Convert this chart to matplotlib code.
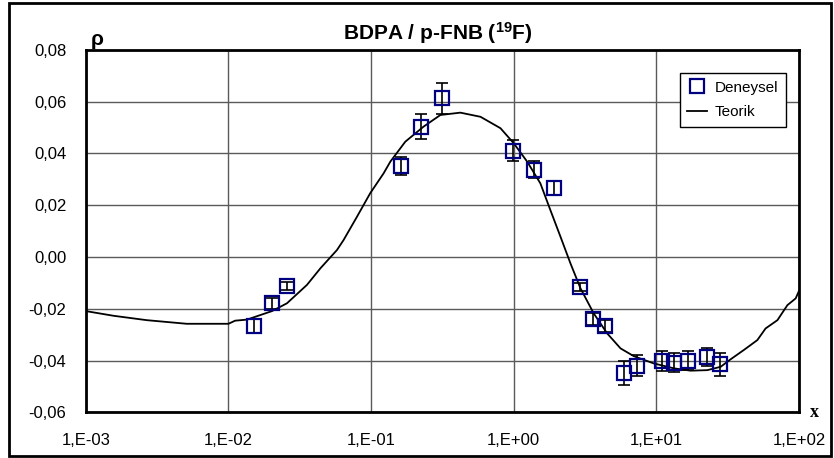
import matplotlib
matplotlib.use("Agg")
import matplotlib.pyplot as plt
from matplotlib.lines import Line2D
from matplotlib.patches import Rectangle
from matplotlib.ticker import FixedLocator, FixedFormatter

plt.rcParams['font.family'] = ['Liberation Sans', 'DejaVu Sans']
plt.rcParams['mathtext.fontset'] = 'custom'
plt.rcParams['mathtext.rm'] = 'Liberation Sans'
plt.rcParams['mathtext.bf'] = 'Liberation Sans:bold'

# measured points (Deneysel) with their error bars
deneysel_x = [0.0150, 0.0202, 0.0257, 0.163, 0.225, 0.314, 0.99, 1.38, 1.91,
              2.91, 3.58, 4.40, 5.91, 7.34, 11.0, 13.3, 16.6, 22.5, 27.9]
deneysel_y = [-0.0266, -0.0179, -0.0111, 0.0351, 0.0503, 0.0612, 0.0410, 0.0336, 0.0265,
              -0.0117, -0.0240, -0.0266, -0.0447, -0.0420, -0.0402, -0.0408, -0.0400, -0.0385, -0.0415]
deneysel_err = [0.0027, 0.0021, 0.0016, 0.0034, 0.0048, 0.0059, 0.0040, 0.0033, 0.0027,
                0.0016, 0.0024, 0.0024, 0.0046, 0.0040, 0.0038, 0.0038, 0.0038, 0.0035, 0.0043]

# theoretical curve (Teorik)
teorik_x = [0.00100, 0.00156, 0.00267, 0.00510, 0.01000, 0.01114, 0.01346, 0.0202, 0.0257,
            0.0355, 0.0441, 0.0577, 0.0641, 0.0796, 0.0986, 0.1225, 0.1365, 0.1738, 0.2333,
            0.3062, 0.4227, 0.5848, 0.8072, 1.000, 1.242, 1.538, 1.807, 2.128, 2.500, 2.938,
            3.639, 4.519, 5.610, 6.950, 9.594, 13.27, 17.38, 22.75, 28.25, 33.19, 41.11,
            51.05, 58.34, 70.63, 82.99, 94.84, 100.0]
teorik_y = [-0.0209, -0.0227, -0.0244, -0.0258, -0.0258, -0.0246, -0.0242, -0.0209, -0.0179,
            -0.0108, -0.0044, 0.0027, 0.0065, 0.0155, 0.0246, 0.0323, 0.0368, 0.0445, 0.0503,
            0.0548, 0.0557, 0.0541, 0.0497, 0.0439, 0.0368, 0.0284, 0.0181, 0.0078, -0.0025, -0.0121,
            -0.0218, -0.0295, -0.0353, -0.0383, -0.0411, -0.0430, -0.0439, -0.0437, -0.0424, -0.0395, -0.0359,
            -0.0321, -0.0276, -0.0244, -0.0186, -0.0160, -0.0131]

x_ticks = [1e-3, 1e-2, 1e-1, 1e0, 1e1, 1e2]
x_ticklabels = ['1,E-03', '1,E-02', '1,E-01', '1,E+00', '1,E+01', '1,E+02']
y_ticks = [-0.06, -0.04, -0.02, 0.00, 0.02, 0.04, 0.06, 0.08]
y_ticklabels = ['-0,06', '-0,04', '-0,02', '0,00', '0,02', '0,04', '0,06', '0,08']

fig = plt.figure(figsize=(8.34, 4.58), dpi=100)
ax = fig.add_axes([0.1029, 0.0996, 0.8551, 0.7919])

ax.plot(teorik_x, teorik_y, color='black', lw=1.3, zorder=3)
ax.errorbar(deneysel_x, deneysel_y, yerr=deneysel_err, fmt='none', ecolor='black',
            elinewidth=1.2, capsize=4.5, capthick=1.2, zorder=4)
ax.plot(deneysel_x, deneysel_y, ls='none', marker='s', markersize=9.5,
        markerfacecolor='none', markeredgecolor='#000080', markeredgewidth=1.6, zorder=5)

ax.set_xscale('log')
ax.set_xlim(1e-3, 1e2)
ax.set_ylim(-0.06, 0.08)
ax.xaxis.set_major_locator(FixedLocator(x_ticks))
ax.xaxis.set_major_formatter(FixedFormatter(x_ticklabels))
ax.xaxis.set_minor_locator(FixedLocator([]))
ax.yaxis.set_major_locator(FixedLocator(y_ticks))
ax.yaxis.set_major_formatter(FixedFormatter(y_ticklabels))
ax.tick_params(axis='both', length=0, labelsize=12, colors='black')
ax.tick_params(axis='x', pad=15)
ax.tick_params(axis='y', pad=14)
ax.grid(True, color='#5a5a5a', lw=1.0)
ax.set_axisbelow(True)
for s in ax.spines.values():
    s.set_linewidth(2.0)
    s.set_color('black')

handles = [Line2D([], [], ls='none', marker='s', markersize=9.5, markerfacecolor='none',
                  markeredgecolor='#000080', markeredgewidth=1.6),
           Line2D([], [], color='black', lw=1.3)]
leg = ax.legend(handles, ['Deneysel', 'Teorik'], loc='upper right',
                bbox_to_anchor=(0.982, 0.936), fontsize=11, frameon=True,
                fancybox=False, framealpha=1, edgecolor='black', borderaxespad=0,
                handlelength=1.3, handletextpad=0.5, borderpad=0.5, labelspacing=0.7)
leg.get_frame().set_linewidth(1.0)

fig.text(0.525, 0.928, r'BDPA / p-FNB ($\mathbf{^{19}}$F)', ha='center', va='center',
         fontsize=15, fontweight='bold')
fig.text(0.116, 0.913, 'ρ', ha='center', va='center', fontsize=15, fontweight='bold')
fig.text(0.977, 0.0996, 'x', ha='center', va='center', fontsize=13, fontweight='bold',
         family=['Liberation Serif', 'DejaVu Serif'])

# outer frame around the whole chart
fig.patches.append(Rectangle((0.011, 0.004), 0.986, 0.990, transform=fig.transFigure,
                             fill=False, edgecolor='black', lw=2.0))

fig.savefig('out.png', dpi=100)
